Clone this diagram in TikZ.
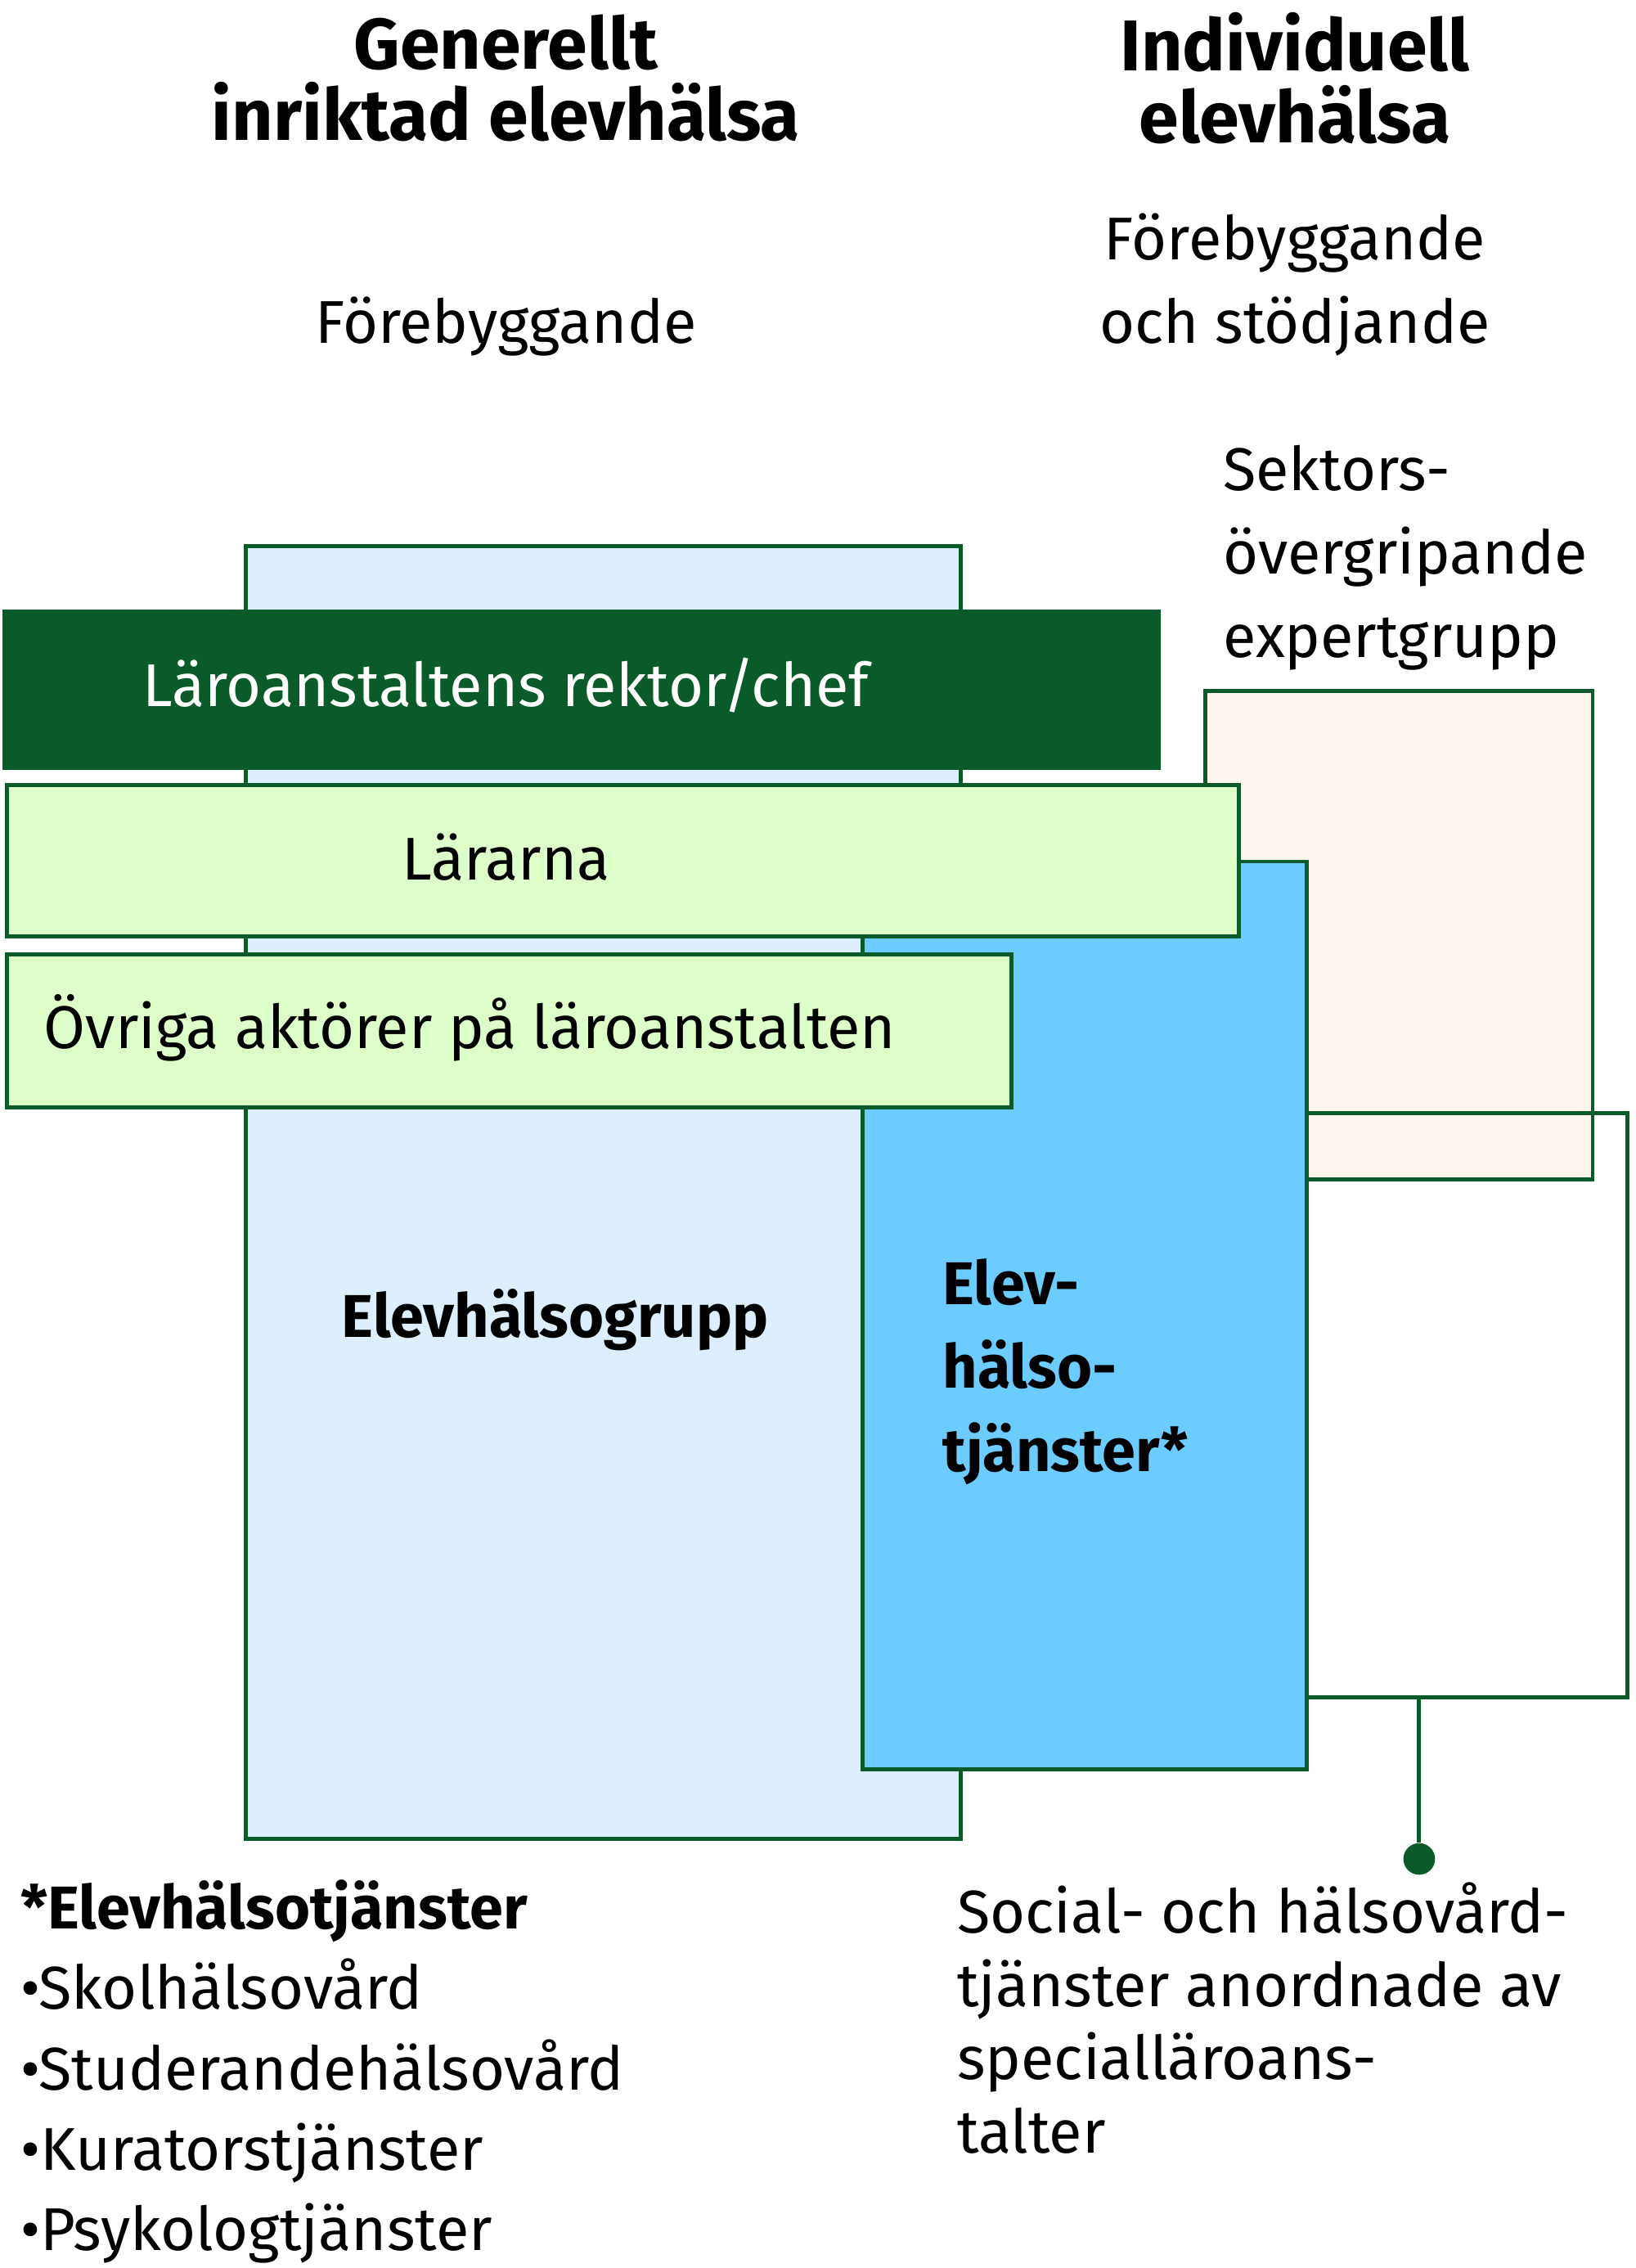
\documentclass[tikz,border=0pt]{standalone}
\usepackage{fontspec}
\setmainfont{Fira Sans}
\begin{document}
\begin{tikzpicture}[x=0.017668cm,y=-0.017668cm,
 gb/.style={draw=dgreen,line width=1.4pt},
 txt/.style={font=\fontsize{21}{29}\selectfont,inner sep=0pt},
 head/.style={font=\fontsize{25}{29}\selectfont\bfseries,inner sep=0pt,align=center},
 btxt/.style={font=\fontsize{21}{29}\selectfont\bfseries,inner sep=0pt}]
\definecolor{dgreen}{HTML}{0B5A2A}
\definecolor{lblue}{HTML}{DDEEFE}
\definecolor{mblue}{HTML}{6CCBFF}
\definecolor{lgreen}{HTML}{DDFDC9}
\definecolor{peach}{HTML}{FFF6F0}
\useasboundingbox (0,0) rectangle (1132,1569);
\node[head] (h1) at (350,54) {Generellt\\[-4pt]inriktad elevhälsa};
\node[head] (h2) at (896,54) {Individuell\\[-4pt]elevhälsa};
\node[txt] (f1) at (350,226) {Förebyggande};
\node[txt,align=center] (f2) at (896,197) {Förebyggande\\och stödjande};
\node[txt,anchor=west,align=left] (sek) at (846,386) {Sektors-\\övergripande\\expertgrupp};
\draw[gb,fill=lblue] (170,378) rectangle (665,1272);
\draw[gb,fill=peach] (834,478) rectangle (1102,816);
\draw[gb] (904,770) -- (1126,770) -- (1126,1174) -- (904,1174);
\coordinate (br) at (982,1174);
\node[circle,fill=dgreen,inner sep=0pt,minimum size=11pt] (dot) at (982,1286) {};
\draw[gb] (br) -- (dot);
\draw[gb,fill=mblue] (597,596) rectangle (904,1224);
\draw[gb,fill=dgreen] (3,423) rectangle (802,531);
\node[txt,text=white] (rek) at (350,474) {Läroanstaltens rektor/chef};
\draw[gb,fill=lgreen] (5,543) rectangle (857,648);
\node[txt] (lar) at (350,593) {Lärarna};
\draw[gb,fill=lgreen] (5,660) rectangle (700,766);
\node[txt,anchor=west] (ovr) at (30,711) {Övriga aktörer på läroanstalten};
\node[btxt] (eg) at (384,913) {Elevhälsogrupp};
\node[btxt,anchor=west,align=left] (et) at (652,949) {Elev-\\hälso-\\tjänster*};
\node[txt,anchor=north west,align=left,font=\fontsize{21}{28}\selectfont] (list) at (14,1300) {\textbf{*Elevhälsotjänster}\\[0pt]•Skolhälsovård\\•Studerandehälsovård\\•Kuratorstjänster\\•Psykologtjänster};
\node[txt,anchor=north west,align=left,font=\fontsize{21}{25.5}\selectfont] (soc) at (662,1302) {Social- och hälsovård-\\tjänster anordnade av\\specialläroans-\\talter};
\end{tikzpicture}
\end{document}
